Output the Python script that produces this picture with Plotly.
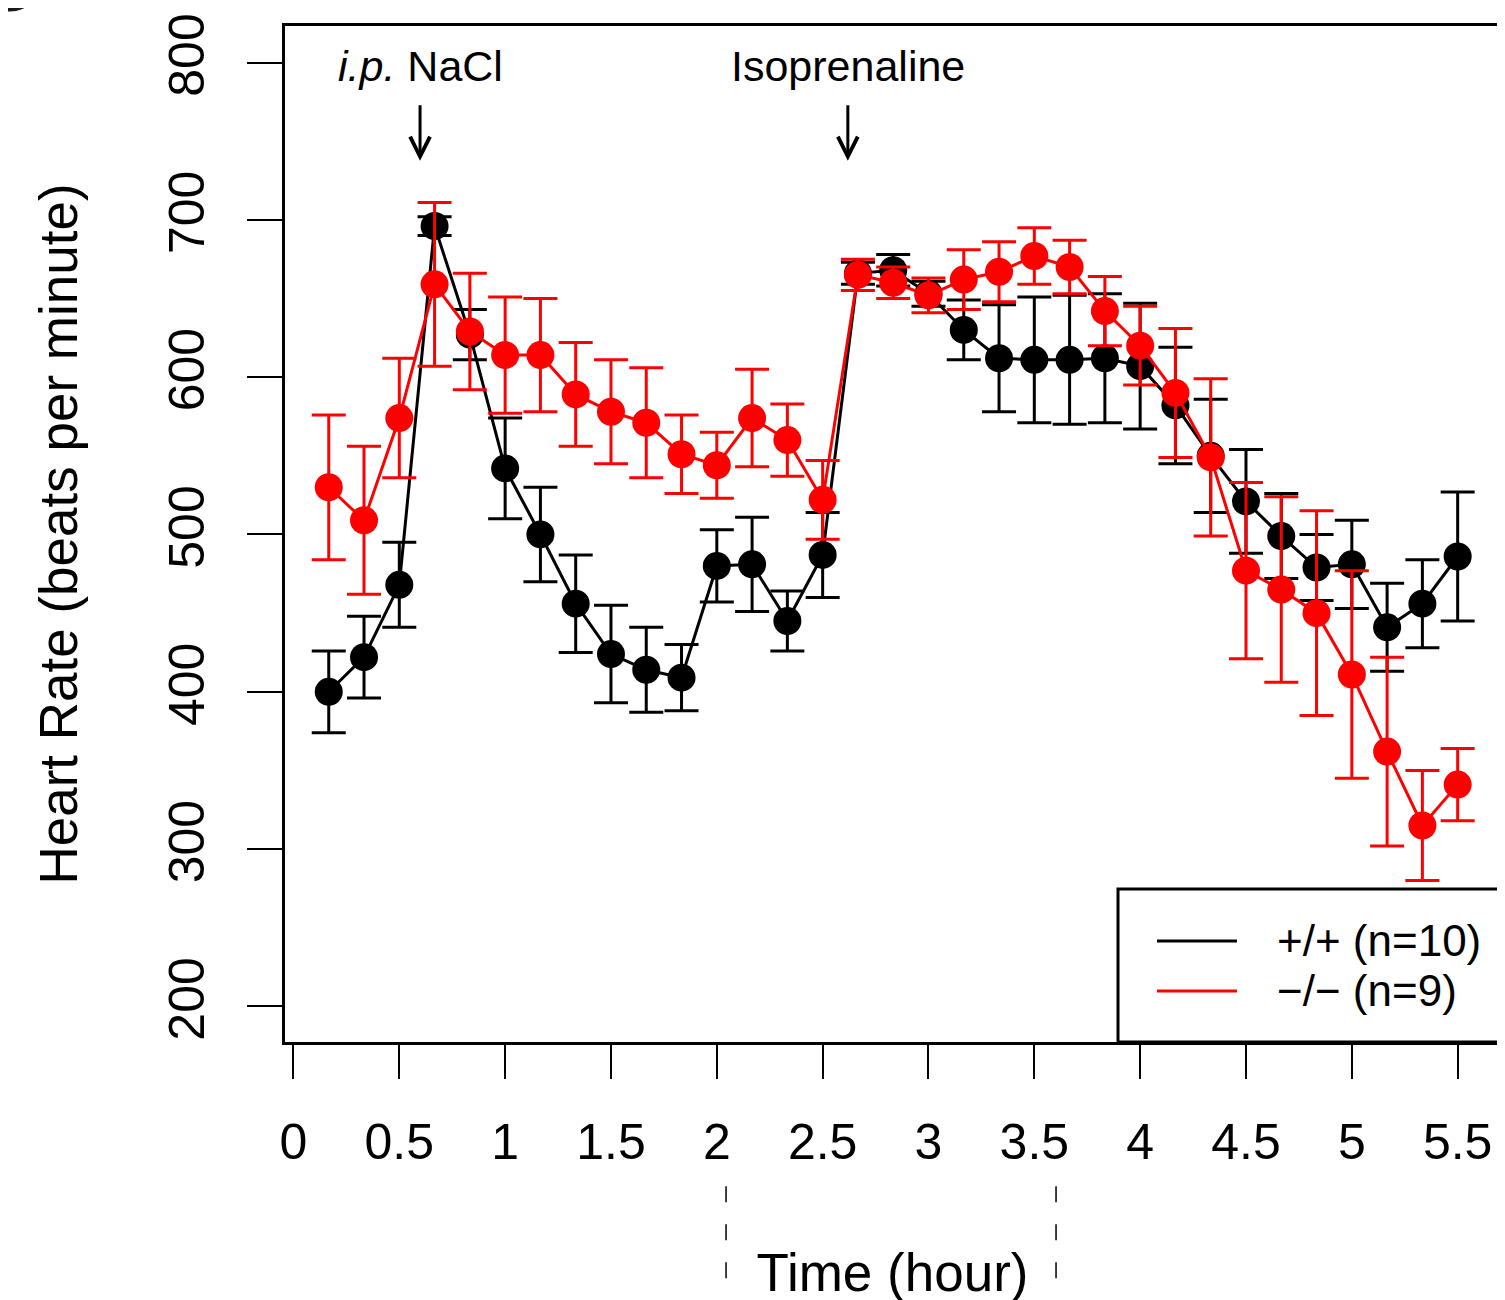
import plotly.graph_objects as go

# ---- data ----
time_min = [10, 20, 30, 40, 50, 60, 70, 80, 90, 100, 110, 120, 130, 140, 150, 160,
            170, 180, 190, 200, 210, 220, 230, 240, 250, 260, 270, 280, 290, 300,
            310, 320, 330]
wt_mean = [400, 422, 468, 696, 627, 542, 500, 456, 424, 414, 409, 480, 481, 445, 487, 666,
           668, 653, 630, 612, 611, 611, 612, 607, 582, 550, 521, 499, 479, 481, 441, 456, 486]
wt_se = [26, 26, 27, 6, 16, 32, 30, 31, 31, 27, 21, 23, 30, 19, 27, 7,
         10, 8, 19, 34, 40, 41, 41, 40, 37, 36, 33, 27, 21, 28, 28, 28, 41]
ko_mean = [530, 509, 574, 659, 629, 614, 614, 589, 578, 571, 551, 544, 574, 560, 522, 665,
           660, 652, 662, 667, 677, 670, 642, 620, 590, 549, 477, 465, 450, 411, 362, 315, 341]
ko_se = [46, 47, 38, 52, 37, 37, 36, 33, 33, 35, 25, 21, 31, 23, 25, 10,
         10, 11, 19, 19, 18, 17, 22, 25, 41, 50, 56, 59, 65, 66, 60, 35, 23]

x_ticks = [0, 0.5, 1, 1.5, 2, 2.5, 3, 3.5, 4, 4.5, 5, 5.5]
x_ticktext = ["0", "0.5", "1", "1.5", "2", "2.5", "3", "3.5", "4", "4.5", "5", "5.5"]
y_ticks = [200, 300, 400, 500, 600, 700, 800]

legend_labels = ["+/+ (n=10)", "\u2212/\u2212 (n=9)"]
colors = ["#000000", "#FF0000"]

hours = [m / 60 for m in time_min]
FONT = "Liberation Sans, Arial, Helvetica, sans-serif"

fig = go.Figure()
for mean, se, col in [(wt_mean, wt_se, colors[0]), (ko_mean, ko_se, colors[1])]:
    fig.add_trace(go.Scatter(
        x=hours, y=mean, mode="lines+markers",
        line=dict(color=col, width=3),
        marker=dict(size=28, color=col),
        error_y=dict(type="data", array=se, visible=True, color=col,
                     thickness=3, width=17),
        showlegend=False, cliponaxis=False,
    ))

# the page body adds an 8px offset, compensated in the margins
fig.update_layout(
    width=1505, height=1300,
    margin=dict(l=277, r=13, t=18, b=266),
    plot_bgcolor="white", paper_bgcolor="white",
    font=dict(family=FONT, color="black"),
    xaxis=dict(
        range=[-0.04, 5.70], tickvals=x_ticks, ticktext=x_ticktext,
        ticks="outside", ticklen=34, tickwidth=2, tickcolor="black",
        showline=True, linewidth=3, linecolor="black", mirror=True,
        showgrid=False, zeroline=False, automargin=False,
        tickfont=dict(size=50), ticklabelstandoff=20,
        title=dict(text="Time (hour)", font=dict(size=53), standoff=85),
    ),
    yaxis=dict(
        range=[177.4, 823.2], tickvals=y_ticks,
        ticks="outside", ticklen=35, tickwidth=2, tickcolor="black",
        showline=True, linewidth=3, linecolor="black", mirror=True,
        showgrid=False, zeroline=False, automargin=False,
        tickangle=-90, tickfont=dict(size=50), ticklabelstandoff=23,
        title=dict(text="Heart Rate (beats per minute)", font=dict(size=53), standoff=65),
    ),
)

# event annotations with arrows
events = [(0.598, "<i>i.p.</i> NaCl"), (2.619, "Isoprenaline")]
for xe, label in events:
    fig.add_annotation(x=xe, y=797.5, xref="x", yref="y", text=label, showarrow=False,
                       font=dict(size=43), xanchor="center", yanchor="middle")
    fig.add_annotation(x=xe, y=737.5, xref="x", yref="y", text="", showarrow=True,
                       ax=0, ay=-57, arrowhead=5, arrowsize=1.3, arrowwidth=3,
                       arrowcolor="black")

# manual legend
fig.add_shape(type="rect", xref="paper", yref="paper", x0=0.6856, x1=1.0, y0=0.0, y1=0.1507,
              line=dict(color="black", width=3), fillcolor="white", layer="above")
for i, (lab, col) in enumerate(zip(legend_labels, colors)):
    yp = [0.0995, 0.0502][i]
    fig.add_shape(type="line", xref="paper", yref="paper", x0=0.7177, x1=0.7835, y0=yp, y1=yp,
                  line=dict(color=col, width=3), layer="above")
    fig.add_annotation(x=0.8148, y=yp, xref="paper", yref="paper", text=lab, showarrow=False,
                       xanchor="left", yanchor="middle", font=dict(size=44))

# dashed separators below the axis
for xp in [0.363, 0.6346]:
    fig.add_shape(type="line", xref="paper", yref="paper", x0=xp, x1=xp, y0=-0.1419, y1=-0.2502,
                  line=dict(color="black", width=1.5, dash="16px,22px"))

# fragment of the neighbouring panel's label disc at the top-left corner
fig.add_shape(type="circle", xref="paper", yref="paper",
              x0=(-20 - 285) / 1216, x1=(40 - 285) / 1216,
              y0=(1041 - 10.5) / 1016, y1=(1041 + 50) / 1016,
              line=dict(color="#1a1a1a", width=0), fillcolor="#1a1a1a")

fig.write_html("out.html")
